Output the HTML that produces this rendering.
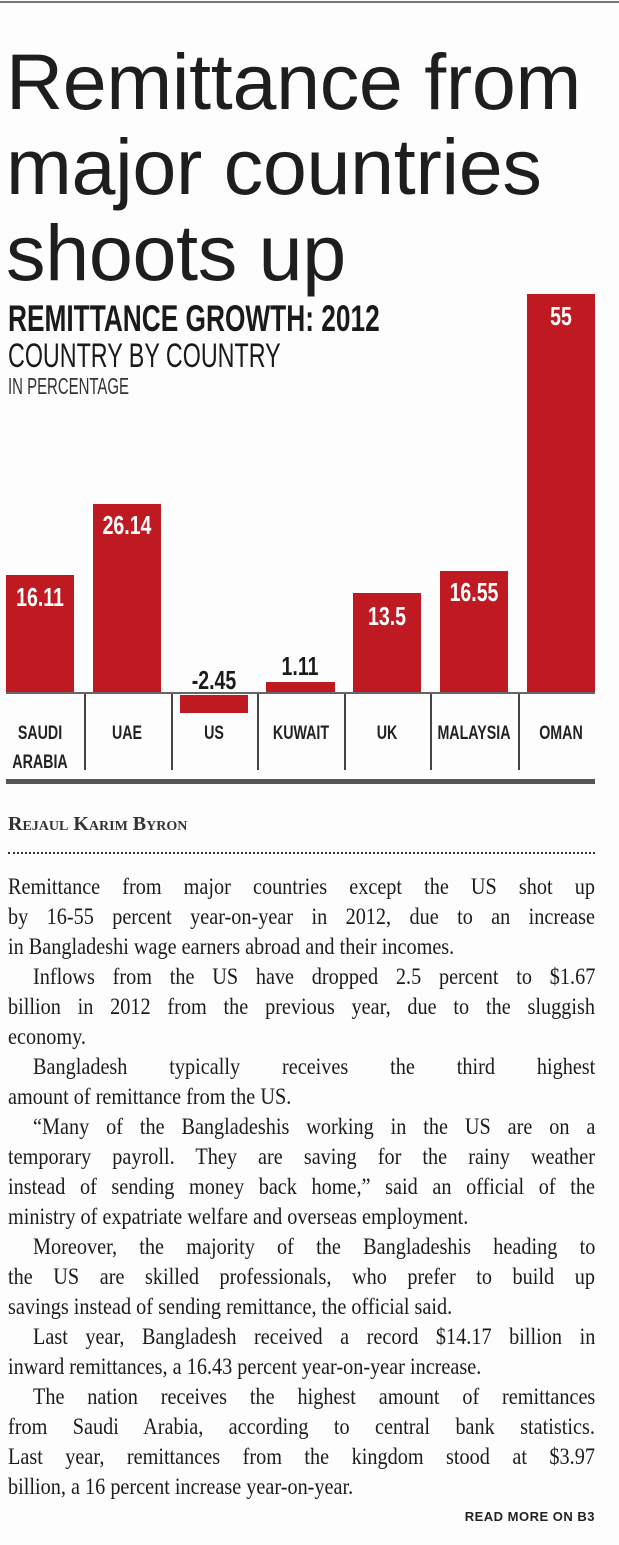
<!DOCTYPE html>
<html><head><meta charset="utf-8"><style>
body{margin:0;width:619px;height:1545px;background:#fdfdfd;position:relative;overflow:hidden;font-family:"Liberation Sans",sans-serif;color:#1a1a1a}
.a{position:absolute}
.h{position:absolute;left:6px;font-size:79px;line-height:79px;color:#1e1e1e;white-space:nowrap;letter-spacing:-0.3px}
.n{position:absolute;white-space:nowrap;transform-origin:left center}
.bar{position:absolute;background:#bf1a22}
.v{position:absolute;width:120px;text-align:center;font-weight:bold;font-size:26px;line-height:26px;transform:scaleX(.75);white-space:nowrap}
.l{position:absolute;width:120px;text-align:center;font-weight:bold;font-size:19px;line-height:19px;transform:scaleX(.75);color:#222;white-space:nowrap}
.dv{position:absolute;top:694px;width:1.5px;height:76px;background:#444}
.t{position:absolute;left:8px;width:667px;font-family:"Liberation Serif",serif;font-size:23px;line-height:30px;height:30px;white-space:nowrap;text-align:justify;text-align-last:justify;color:#1c1c1c;transform:scaleX(.88);transform-origin:left top}
.t.i{left:33px;width:639px}
.t.e{text-align-last:left}
</style></head><body>
<div class="a" style="left:0;top:1px;width:619px;height:2px;background:#777"></div>
<div class="h" style="top:42px">Remittance from</div>
<div class="h" style="top:127px">major countries</div>
<div class="h" style="top:213px">shoots up</div>

<div class="n" style="left:8px;top:300px;font-size:37px;line-height:37px;font-weight:bold;transform:scaleX(.71)">REMITTANCE GROWTH: 2012</div>
<div class="n" style="left:8px;top:339px;font-size:34px;line-height:34px;transform:scaleX(.685)">COUNTRY BY COUNTRY</div>
<div class="n" style="left:8px;top:375px;font-size:23px;line-height:23px;transform:scaleX(.65);color:#333">IN PERCENTAGE</div>

<div class="bar" style="left:6px;top:575px;width:68px;height:118px"></div>
<div class="bar" style="left:93px;top:504px;width:68px;height:189px"></div>
<div class="bar" style="left:180px;top:695px;width:68px;height:18px"></div>
<div class="bar" style="left:266px;top:682px;width:69px;height:11px"></div>
<div class="bar" style="left:353px;top:593px;width:68px;height:100px"></div>
<div class="bar" style="left:440px;top:571px;width:68px;height:122px"></div>
<div class="bar" style="left:527px;top:294px;width:68px;height:399px"></div>

<div class="v" style="left:-20px;top:584px;color:#fff">16.11</div>
<div class="v" style="left:67px;top:512px;color:#fff">26.14</div>
<div class="v" style="left:154px;top:667px;color:#1a1a1a">-2.45</div>
<div class="v" style="left:240px;top:653px;color:#1a1a1a">1.11</div>
<div class="v" style="left:327px;top:603px;color:#fff">13.5</div>
<div class="v" style="left:414px;top:579px;color:#fff">16.55</div>
<div class="v" style="left:501px;top:303px;color:#fff">55</div>

<div class="a" style="left:6px;top:692px;width:589px;height:2px;background:#666"></div>
<div class="dv" style="left:84px"></div><div class="dv" style="left:171px"></div><div class="dv" style="left:257px"></div>
<div class="dv" style="left:344px"></div><div class="dv" style="left:430px"></div><div class="dv" style="left:518px"></div>

<div class="l" style="left:-20px;top:724px">SAUDI</div>
<div class="l" style="left:-20px;top:753px">ARABIA</div>
<div class="l" style="left:67px;top:724px">UAE</div>
<div class="l" style="left:154px;top:724px">US</div>
<div class="l" style="left:241px;top:724px">KUWAIT</div>
<div class="l" style="left:327px;top:724px">UK</div>
<div class="l" style="left:414px;top:724px">MALAYSIA</div>
<div class="l" style="left:501px;top:724px">OMAN</div>
<div class="a" style="left:6px;top:779px;width:589px;height:5px;background:#555"></div>

<div class="a" style="left:8px;top:813px;font-family:'Liberation Serif',serif;font-weight:bold;font-size:20px;color:#333;font-variant:small-caps">Rejaul Karim Byron</div>
<div class="a" style="left:8px;top:852px;width:587px;height:0;border-top:2px dotted #333"></div>

<div class="t" style="top:872px">Remittance from major countries except the US shot up</div>
<div class="t" style="top:902px">by 16-55 percent year-on-year in 2012, due to an increase</div>
<div class="t e" style="top:932px">in Bangladeshi wage earners abroad and their incomes.</div>
<div class="t i" style="top:962px">Inflows from the US have dropped 2.5 percent to $1.67</div>
<div class="t" style="top:992px">billion in 2012 from the previous year, due to the sluggish</div>
<div class="t e" style="top:1022px">economy.</div>
<div class="t i" style="top:1052px">Bangladesh typically receives the third highest</div>
<div class="t e" style="top:1082px">amount of remittance from the US.</div>
<div class="t i" style="top:1112px">“Many of the Bangladeshis working in the US are on a</div>
<div class="t" style="top:1142px">temporary payroll. They are saving for the rainy weather</div>
<div class="t" style="top:1172px">instead of sending money back home,” said an official of the</div>
<div class="t e" style="top:1202px">ministry of expatriate welfare and overseas employment.</div>
<div class="t i" style="top:1232px">Moreover, the majority of the Bangladeshis heading to</div>
<div class="t" style="top:1262px">the US are skilled professionals, who prefer to build up</div>
<div class="t e" style="top:1292px">savings instead of sending remittance, the official said.</div>
<div class="t i" style="top:1322px">Last year, Bangladesh received a record $14.17 billion in</div>
<div class="t e" style="top:1352px">inward remittances, a 16.43 percent year-on-year increase.</div>
<div class="t i" style="top:1382px">The nation receives the highest amount of remittances</div>
<div class="t" style="top:1412px">from Saudi Arabia, according to central bank statistics.</div>
<div class="t" style="top:1442px">Last year, remittances from the kingdom stood at $3.97</div>
<div class="t e" style="top:1472px">billion, a 16 percent increase year-on-year.</div>

<div class="a" style="right:24px;top:1509px;font-weight:bold;font-size:13px;letter-spacing:0.5px;color:#222">READ MORE ON B3</div>
</body></html>
